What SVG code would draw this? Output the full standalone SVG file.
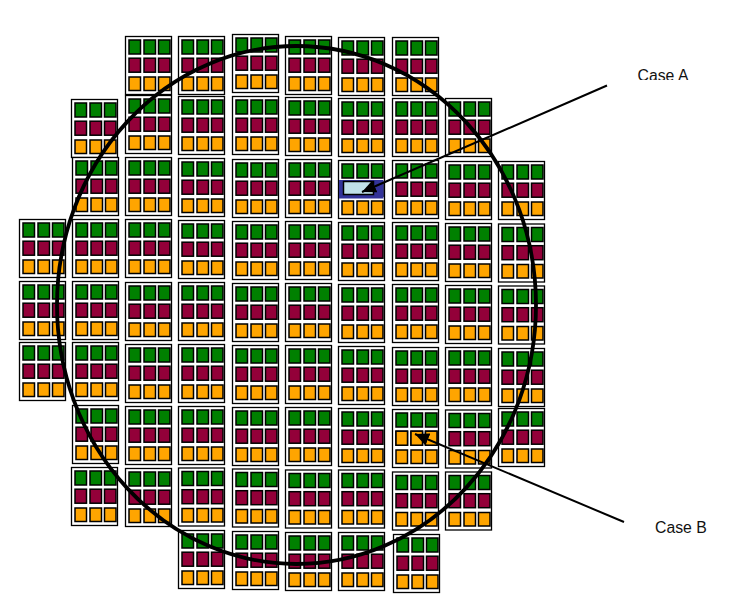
<svg xmlns="http://www.w3.org/2000/svg" width="745" height="608" viewBox="0 0 745 608">
<style>
.c{fill:#fff;stroke:#000;stroke-width:1.3}
.s{stroke:#000;stroke-width:1.5}
.g{fill:#008000}
.r{fill:#930039}
.o{fill:#ffa500}
.l{fill:none;stroke:#000;stroke-width:2}
.t{font-family:"Liberation Sans",Arial,sans-serif;font-size:15.800px;fill:#111}
</style>
<defs>
<g id="chip">
<rect class="c" x="0" y="0" width="46" height="58"/>
<g class="s g"><rect x="3.500" y="3.500" width="11.500" height="14"/><rect x="18.500" y="3.500" width="11.500" height="14"/><rect x="33" y="3.500" width="11.500" height="14"/></g>
<g class="s r"><rect x="3.500" y="21.700" width="11.500" height="14"/><rect x="18.500" y="21.700" width="11.500" height="14"/><rect x="33" y="21.700" width="11.500" height="14"/></g>
<g class="s o"><rect x="3.500" y="40.500" width="11.500" height="13.500"/><rect x="18.500" y="40.500" width="11.500" height="13.500"/><rect x="33" y="40.500" width="11.500" height="13.500"/></g>
</g>
<marker id="ah" markerUnits="userSpaceOnUse" markerWidth="16" markerHeight="14" refX="14" refY="6.500" orient="auto"><path d="M0 0L14 6.500L0 13Z" fill="#000"/></marker>
<clipPath id="clipA"><rect x="630" y="60" width="70" height="20"/></clipPath>
</defs>
<g id="chips">
<use id="n1" href="#chip" x="19.500" y="219.500"/><use id="n2" href="#chip" x="19.500" y="281.500"/><use id="n3" href="#chip" x="19.500" y="342.500"/>
<use id="n4" href="#chip" x="71.500" y="99.500"/><use id="n5" href="#chip" x="72.500" y="157.500"/><use id="n6" href="#chip" x="72.500" y="219.500"/><use id="n7" href="#chip" x="72.500" y="281.500"/><use id="n8" href="#chip" x="72.500" y="342.500"/><use id="n9" href="#chip" x="72.500" y="405.500"/><use id="n10" href="#chip" x="71.500" y="467.500"/>
<use id="n11" href="#chip" x="125.500" y="36.500"/><use id="n12" href="#chip" x="125.500" y="95.500"/><use id="n13" href="#chip" x="125.500" y="157.500"/><use id="n14" href="#chip" x="125.500" y="219.500"/><use id="n15" href="#chip" x="125.500" y="282.500"/><use id="n16" href="#chip" x="125.500" y="344.500"/><use id="n17" href="#chip" x="125.500" y="406.500"/><use id="n18" href="#chip" x="125.500" y="468.500"/>
<use id="n19" href="#chip" x="178.500" y="36.500"/><use id="n20" href="#chip" x="178.500" y="96.500"/><use id="n21" href="#chip" x="178.500" y="158.500"/><use id="n22" href="#chip" x="178.500" y="220.500"/><use id="n23" href="#chip" x="178.500" y="282.500"/><use id="n24" href="#chip" x="178.500" y="344.500"/><use id="n25" href="#chip" x="178.500" y="406.500"/><use id="n26" href="#chip" x="178.500" y="468"/><use id="n27" href="#chip" x="178.500" y="530.500"/>
<use id="n28" href="#chip" x="232.500" y="34.500"/><use id="n29" href="#chip" x="232.500" y="96.500"/><use id="n30" href="#chip" x="232.500" y="159.500"/><use id="n31" href="#chip" x="232.500" y="221.500"/><use id="n32" href="#chip" x="232.500" y="283.500"/><use id="n33" href="#chip" x="232.500" y="345.500"/><use id="n34" href="#chip" x="232.500" y="407.500"/><use id="n35" href="#chip" x="232.500" y="469"/><use id="n36" href="#chip" x="232.500" y="531.500"/>
<use id="n37" href="#chip" x="285.500" y="36.500"/><use id="n38" href="#chip" x="285.500" y="97.500"/><use id="n39" href="#chip" x="285.500" y="159.500"/><use id="n40" href="#chip" x="285.500" y="221.500"/><use id="n41" href="#chip" x="285.500" y="283.500"/><use id="n42" href="#chip" x="285.500" y="345.500"/><use id="n43" href="#chip" x="285.500" y="407.500"/><use id="n44" href="#chip" x="285.500" y="470"/><use id="n45" href="#chip" x="285.500" y="532.500"/>
<use id="n46" href="#chip" x="338.500" y="37.500"/><use id="n47" href="#chip" x="338.500" y="98.500"/>
<g id="caseA"><use href="#chip" x="338.500" y="160.500"/><rect x="339" y="180" width="44.500" height="18.500" fill="#333399"/><rect x="343.500" y="181.500" width="30" height="13" fill="#c0e0e8" stroke="#000" stroke-width="1.500"/></g>
<use id="n48" href="#chip" x="338.500" y="222.500"/><use id="n49" href="#chip" x="338.500" y="284.500"/><use id="n50" href="#chip" x="338.500" y="346.500"/><use id="n51" href="#chip" x="338.500" y="408.500"/><use id="n52" href="#chip" x="338.500" y="470"/><use id="n53" href="#chip" x="338.500" y="532.500"/>
<use id="n54" href="#chip" x="392.500" y="37.500"/><use id="n55" href="#chip" x="392.500" y="98.500"/><use id="n56" href="#chip" x="392.500" y="160.500"/><use id="n57" href="#chip" x="392.500" y="222.500"/><use id="n58" href="#chip" x="392.500" y="284.500"/><use id="n59" href="#chip" x="392.500" y="347.500"/>
<g id="caseB"><use href="#chip" x="392.500" y="409.500"/><g class="s o"><rect x="396" y="431.200" width="11.500" height="14"/><rect x="411" y="431.200" width="11.500" height="14"/><rect x="425.500" y="431.200" width="11.500" height="14"/></g></g>
<use id="n60" href="#chip" x="392.500" y="472"/><use id="n61" href="#chip" x="393.500" y="534.500"/>
<use id="n62" href="#chip" x="445.500" y="98.500"/><use id="n63" href="#chip" x="445.500" y="161.500"/><use id="n64" href="#chip" x="445.500" y="223.500"/><use id="n65" href="#chip" x="445.500" y="285.500"/><use id="n66" href="#chip" x="445.500" y="347.500"/><use id="n67" href="#chip" x="445.500" y="410"/><use id="n68" href="#chip" x="445.500" y="472"/>
<use id="n69" href="#chip" x="498.500" y="161.500"/><use id="n70" href="#chip" x="498.500" y="224"/><use id="n71" href="#chip" x="498.500" y="286"/><use id="n72" href="#chip" x="498.500" y="348.500"/><use id="n73" href="#chip" x="498.500" y="408.500"/>
</g>
<ellipse id="wafer" cx="296.500" cy="305" rx="239.500" ry="259" fill="none" stroke="#000" stroke-width="3.800"/>
<g id="connectors">
<line class="l" x1="607" y1="85.500" x2="362" y2="192" marker-end="url(#ah)"/>
<line class="l" x1="624" y1="522" x2="415" y2="434" marker-end="url(#ah)"/>
</g>
<text class="t" x="637.500" y="80.800" clip-path="url(#clipA)">Case A</text>
<text class="t" x="655" y="532.500">Case B</text>
</svg>
